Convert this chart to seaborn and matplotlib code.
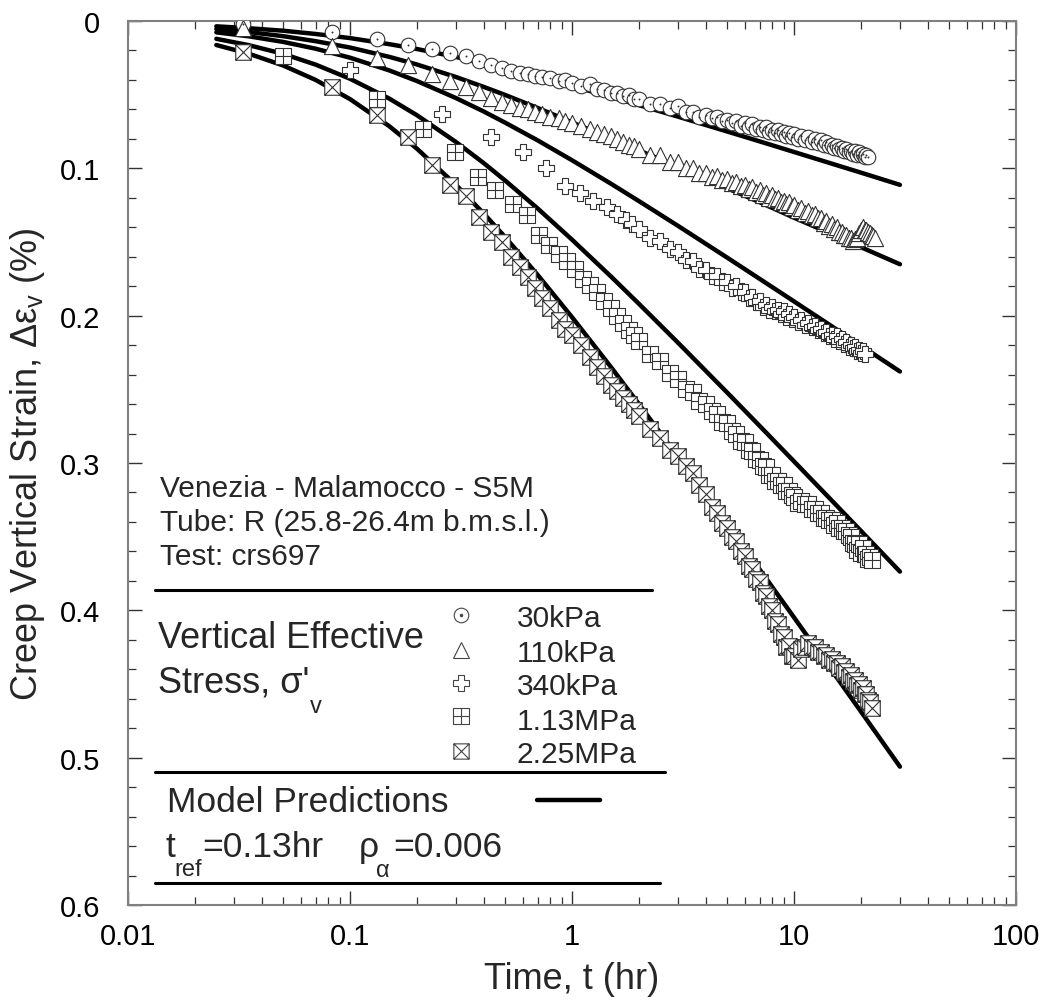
import numpy as np
import pandas as pd
import matplotlib
matplotlib.use("Agg")
import matplotlib.pyplot as plt
import seaborn as sns
from matplotlib.path import Path
from matplotlib.lines import Line2D

# ---------------- data ----------------
# Model predictions (time in hr, strain in %)
model_t = [0.025, 0.035, 0.05, 0.07, 0.1, 0.15, 0.2, 0.3, 0.4, 0.5, 0.7, 1, 1.5, 2, 3, 5, 7, 10, 15, 20, 30]
model_30kpa = [0.0036, 0.0049, 0.0066, 0.0088, 0.0116, 0.0157, 0.0190, 0.0244, 0.0287, 0.0322, 0.0378,
               0.0441, 0.0516, 0.0571, 0.0649, 0.0750, 0.0817, 0.0889, 0.0971, 0.1029, 0.1112]
model_110kpa = [0.0055, 0.0075, 0.0103, 0.0137, 0.0180, 0.0243, 0.0295, 0.0380, 0.0447, 0.0502, 0.0590,
                0.0688, 0.0798, 0.0878, 0.0990, 0.1135, 0.1230, 0.1335, 0.1450, 0.1535, 0.1651]
model_340kpa = [0.0077, 0.0104, 0.0142, 0.0188, 0.0249, 0.0335, 0.0407, 0.0523, 0.0614, 0.0690, 0.0810,
                0.0945, 0.1105, 0.1222, 0.1390, 0.1606, 0.1750, 0.1903, 0.2078, 0.2203, 0.2379]
model_113mpa = [0.0121, 0.0164, 0.0223, 0.0296, 0.0392, 0.0526, 0.0639, 0.0821, 0.0964, 0.1083, 0.1272,
                0.1484, 0.1735, 0.1919, 0.2183, 0.2522, 0.2748, 0.2989, 0.3264, 0.3460, 0.3737]
model_225mpa = [0.0163, 0.0222, 0.0302, 0.0400, 0.0530, 0.0713, 0.0866, 0.1112, 0.1306, 0.1467, 0.1723,
                0.2010, 0.2350, 0.2599, 0.2957, 0.3416, 0.3722, 0.4048, 0.4421, 0.4686, 0.5061]

# Measured creep strain: sampling times (hr)
t_early_std = [0.033, 0.083, 0.133, 0.183, 0.233, 0.283, 0.333, 0.383, 0.433, 0.483, 0.533, 0.583, 0.633,
               0.683, 0.733, 0.8, 0.87, 0.93, 1.0, 1.1, 1.2, 1.3, 1.4, 1.5, 1.6, 1.7, 1.8, 1.9]
t_early_340 = [0.1, 0.26, 0.43, 0.6, 0.76, 0.93, 1.09, 1.24, 1.44, 1.6, 1.75, 1.87]
t_early_113 = [0.05, 0.132, 0.213, 0.297, 0.376, 0.45, 0.54, 0.63, 0.71, 0.79, 0.87, 0.95, 1.03, 1.12,
               1.2, 1.3, 1.4, 1.5, 1.6, 1.7, 1.8, 1.9]
t_late = [2.0, 2.25, 2.5, 2.75, 3.0, 3.25, 3.5, 3.75, 4.0, 4.25, 4.5, 4.75, 5.0, 5.25, 5.5, 5.75, 6.0,
          6.25, 6.5, 6.75, 7.0, 7.25, 7.5, 7.75, 8.0, 8.25, 8.5, 8.75, 9.0, 9.25, 9.5, 9.75, 10.0,
          10.4, 10.8, 11.2, 11.6, 12.0, 12.4, 12.8, 13.2, 13.6, 14.0, 14.4, 14.8, 15.2, 15.6, 16.0,
          16.4, 16.8, 17.2, 17.6, 18.0, 18.4, 18.8, 19.2, 19.6, 20.0, 20.4, 20.8, 21.2, 21.6, 22.0,
          22.4, 22.8, 23.2]

v_30kpa = [0.002, 0.0075, 0.012, 0.016, 0.019, 0.022, 0.024, 0.027, 0.030, 0.032, 0.034, 0.035, 0.036,
           0.037, 0.038, 0.039, 0.041, 0.040, 0.042, 0.044, 0.043, 0.046, 0.047, 0.049, 0.049, 0.051, 0.050, 0.053,
           0.053, 0.056, 0.056, 0.059, 0.058, 0.062, 0.062, 0.065, 0.064, 0.066, 0.065, 0.068, 0.067, 0.069, 0.068,
           0.071, 0.069, 0.072, 0.070, 0.073, 0.072, 0.074, 0.072, 0.075, 0.074, 0.076, 0.074, 0.077, 0.075, 0.078,
           0.076, 0.079, 0.077, 0.080, 0.078, 0.081, 0.079, 0.082, 0.080, 0.083, 0.081, 0.084, 0.082, 0.085, 0.084,
           0.086, 0.085, 0.087, 0.086, 0.088, 0.087, 0.089, 0.088, 0.090, 0.088, 0.091, 0.089, 0.091, 0.090, 0.092,
           0.091, 0.092]
t_30kpa = t_early_std + t_late[:62]

v_110kpa = [0.005, 0.017, 0.025, 0.030, 0.036, 0.041, 0.045, 0.048, 0.052, 0.055, 0.057, 0.059, 0.060,
            0.062, 0.063, 0.065, 0.066, 0.068, 0.069, 0.071, 0.073, 0.075, 0.077, 0.078, 0.080, 0.082, 0.084, 0.085,
            0.087, 0.091, 0.091, 0.096, 0.096, 0.100, 0.100, 0.103, 0.103, 0.106, 0.105, 0.108, 0.107, 0.110, 0.109,
            0.112, 0.111, 0.114, 0.113, 0.116, 0.115, 0.118, 0.117, 0.120, 0.118, 0.121, 0.120, 0.123, 0.122, 0.124,
            0.123, 0.126, 0.125, 0.128, 0.127, 0.130, 0.129, 0.132, 0.131, 0.134, 0.134, 0.137, 0.136, 0.139, 0.138,
            0.141, 0.140, 0.143, 0.143, 0.145, 0.145, 0.147, 0.147, 0.149, 0.148, 0.147, 0.144, 0.142, 0.140, 0.142,
            0.142, 0.143, 0.144, 0.145, 0.146, 0.147]
t_110kpa = t_early_std + t_late[:66]

v_340kpa = [0.033, 0.063, 0.079, 0.089, 0.100, 0.112, 0.117, 0.122, 0.126, 0.131, 0.135, 0.138,
            0.141, 0.147, 0.149, 0.155, 0.157, 0.162, 0.163, 0.168, 0.169, 0.173, 0.173, 0.177, 0.177, 0.181, 0.180,
            0.184, 0.184, 0.188, 0.187, 0.191, 0.190, 0.194, 0.193, 0.196, 0.194, 0.197, 0.196, 0.199, 0.197, 0.201,
            0.199, 0.202, 0.201, 0.204, 0.203, 0.206, 0.205, 0.208, 0.207, 0.210, 0.209, 0.212, 0.211, 0.214, 0.213,
            0.216, 0.214, 0.217, 0.216, 0.219, 0.218, 0.221, 0.220, 0.222, 0.221, 0.224, 0.223, 0.225, 0.224, 0.226]
t_340kpa = t_early_340 + t_late[:60]

v_113mpa = [0.024, 0.053, 0.073, 0.089, 0.106, 0.115, 0.124, 0.132, 0.145, 0.152, 0.158, 0.163, 0.168, 0.175,
            0.179, 0.184, 0.190, 0.195, 0.200, 0.205, 0.210, 0.213,
            0.217, 0.226, 0.231, 0.239, 0.243, 0.250, 0.252, 0.258, 0.260, 0.265, 0.267, 0.272, 0.273, 0.278, 0.280,
            0.285, 0.286, 0.291, 0.292, 0.297, 0.298, 0.302, 0.303, 0.308, 0.308, 0.312, 0.312, 0.315, 0.315, 0.319,
            0.319, 0.322, 0.323, 0.327, 0.326, 0.328, 0.328, 0.331, 0.331, 0.334, 0.334, 0.337, 0.337, 0.339, 0.339,
            0.342, 0.341, 0.344, 0.344, 0.346, 0.346, 0.349, 0.350, 0.354, 0.355, 0.359, 0.355, 0.361, 0.358, 0.362,
            0.362, 0.365, 0.364, 0.366]
t_113mpa = t_early_113 + t_late[:64]

v_225mpa = [0.021, 0.045, 0.064, 0.079, 0.098, 0.111, 0.119, 0.133, 0.143, 0.150, 0.160, 0.167, 0.174,
            0.181, 0.188, 0.195, 0.203, 0.209, 0.213, 0.220, 0.228, 0.235, 0.241, 0.247, 0.251, 0.256, 0.260, 0.264,
            0.268, 0.277, 0.283, 0.291, 0.295, 0.302, 0.307, 0.315, 0.321, 0.330, 0.334, 0.341, 0.344, 0.350, 0.353,
            0.360, 0.363, 0.370, 0.372, 0.379, 0.381, 0.388, 0.390, 0.397, 0.400, 0.407, 0.409, 0.416, 0.418, 0.425,
            0.424, 0.431, 0.431, 0.434, 0.426, 0.425, 0.422, 0.425, 0.425, 0.428, 0.428, 0.431, 0.430, 0.434, 0.433,
            0.436, 0.436, 0.439, 0.438, 0.442, 0.441, 0.445, 0.444, 0.448, 0.447, 0.451, 0.450, 0.454, 0.453, 0.457,
            0.457, 0.461, 0.462, 0.466]
t_225mpa = t_early_std + t_late[:64]

stress_labels = ["30kPa", "110kPa", "340kPa", "1.13MPa", "2.25MPa"]
x_ticks = [0.01, 0.1, 1, 10, 100]
x_ticklabels = ["0.01", "0.1", "1", "10", "100"]
y_ticks = [0, 0.1, 0.2, 0.3, 0.4, 0.5, 0.6]
y_ticklabels = ["0", "0.1", "0.2", "0.3", "0.4", "0.5", "0.6"]

# ---------------- style ----------------
sns.set_theme(style="ticks")
plt.rcParams['font.family'] = ['Liberation Sans', 'DejaVu Sans']
plt.rcParams['mathtext.fontset'] = 'custom'
plt.rcParams['mathtext.rm'] = 'Liberation Sans'
plt.rcParams['mathtext.it'] = 'Liberation Sans:italic'
plt.rcParams['mathtext.default'] = 'regular'

W, H = 1044, 1003
fig = plt.figure(figsize=(W / 100, H / 100), dpi=100)
fig.patch.set_facecolor('white')
L, R, T, B = 128, 1016, 22, 906
ax = fig.add_axes([L / W, 1 - B / H, (R - L) / W, (B - T) / H])
ax.set_facecolor('white')


def fx(x):
    return x / W


def fy(y):
    return 1 - y / H


# custom markers: square with plus, square with cross
sq_plus = Path([(-1, -1), (1, -1), (1, 1), (-1, 1), (-1, -1), (0, -1), (0, 1), (-1, 0), (1, 0)],
               [Path.MOVETO, Path.LINETO, Path.LINETO, Path.LINETO, Path.CLOSEPOLY,
                Path.MOVETO, Path.LINETO, Path.MOVETO, Path.LINETO])
sq_x = Path([(-1, -1), (1, -1), (1, 1), (-1, 1), (-1, -1), (-1, -1), (1, 1), (-1, 1), (1, -1)],
            [Path.MOVETO, Path.LINETO, Path.LINETO, Path.LINETO, Path.CLOSEPOLY,
             Path.MOVETO, Path.LINETO, Path.MOVETO, Path.LINETO])

edge = '#333333'

# model lines
for mv in [model_30kpa, model_110kpa, model_340kpa, model_113mpa, model_225mpa]:
    sns.lineplot(x=model_t, y=mv, color='black', lw=3.2, ax=ax, estimator=None,
                 sort=False, legend=False, zorder=2)

series = [
    (t_30kpa, v_30kpa, 'o', 110),
    (t_110kpa, v_110kpa, '^', 135),
    (t_340kpa, v_340kpa, 'P', 120),
    (t_113mpa, v_113mpa, sq_plus, 125),
    (t_225mpa, v_225mpa, sq_x, 125),
]
for t, v, mk, s in series:
    sns.scatterplot(x=t, y=v, marker=mk, s=s, color='white', edgecolor=edge,
                    linewidth=0.8, ax=ax, zorder=3, legend=False)
# centre dots of the circles
sns.scatterplot(x=t_30kpa, y=v_30kpa, marker='o', s=2, color='#333333', linewidth=0,
                ax=ax, zorder=4, legend=False)

# axes
ax.set_xscale('log')
ax.set_xlim(0.01, 100)
ax.set_ylim(0.6, 0)
ax.set_xticks(x_ticks)
ax.set_xticklabels(x_ticklabels)
ax.xaxis.set_minor_locator(matplotlib.ticker.LogLocator(base=10, subs=np.arange(2, 10) * 1.0, numticks=20))
ax.xaxis.set_minor_formatter(matplotlib.ticker.NullFormatter())
ax.set_yticks(y_ticks)
ax.set_yticklabels(y_ticklabels)
ax.yaxis.set_minor_locator(matplotlib.ticker.MultipleLocator(0.02))
ax.tick_params(which='both', direction='in', top=True, right=True, color='#333333')
ax.tick_params(which='major', length=10, width=1.0, labelsize=21, labelcolor='black')
ax.tick_params(which='minor', length=5.5, width=0.9)
ax.tick_params(axis='x', which='major', pad=12)
ax.tick_params(axis='y', which='major', pad=20)
for sp in ax.spines.values():
    sp.set_color('#808080')
    sp.set_linewidth(1.5)

ax.set_xlabel("Time, t (hr)", fontsize=26)
ax.xaxis.set_label_coords(0.5, (B - 962) / (B - T))
ax.set_ylabel("Creep Vertical Strain, Δε$_{\\mathregular{v}}$ (%)", fontsize=26)
ax.yaxis.set_label_coords((47 - L) / (R - L), 0.5)

# annotation block
fig.text(fx(160), fy(497), "Venezia - Malamocco - S5M", fontsize=21.5, va='baseline')
fig.text(fx(160), fy(531), "Tube: R (25.8-26.4m b.m.s.l.)", fontsize=21.5, va='baseline')
fig.text(fx(160), fy(565), "Test: crs697", fontsize=21.5, va='baseline')

for (x0, x1, y) in [(155, 652, 591), (155, 665, 773), (155, 660, 884)]:
    fig.add_artist(Line2D([fx(x0), fx(x1)], [fy(y), fy(y)], color='black', lw=2.2,
                          transform=fig.transFigure))

fig.text(fx(158), fy(648), "Vertical Effective", fontsize=26, va='baseline')
fig.text(fx(158), fy(693), "Stress, σ'", fontsize=26, va='baseline')
fig.text(fx(310), fy(713), "v", fontsize=17, va='baseline')

legend_y = [616, 651, 684, 717, 752]
legend_base = [627, 662, 695, 730, 763]
legend_mk = ['o', '^', 'P', sq_plus, sq_x]
legend_ms = [10.5, 11.5, 11, 11, 11]
for yc, yb, mk, ms, lab in zip(legend_y, legend_base, legend_mk, legend_ms, stress_labels):
    fig.add_artist(Line2D([fx(461)], [fy(yc)], marker=mk, ms=ms, mfc='white', mec='#444444',
                          mew=0.8, ls='none', transform=fig.transFigure))
    fig.text(fx(517), fy(yb), lab, fontsize=21.5, va='baseline')
fig.add_artist(Line2D([fx(461)], [fy(616)], marker='o', ms=1.5, mfc='#444444', mec='#444444',
                      ls='none', transform=fig.transFigure))

fig.text(fx(167), fy(812), "Model Predictions", fontsize=25.5, va='baseline')
fig.add_artist(Line2D([fx(537), fx(600)], [fy(801), fy(801)], color='black', lw=3.2,
                      transform=fig.transFigure))

fig.text(fx(165), fy(857), "t", fontsize=25.5, va='baseline')
fig.text(fx(174), fy(876), "ref", fontsize=17, va='baseline')
fig.text(fx(202), fy(857), "=0.13hr", fontsize=25.5, va='baseline')
fig.text(fx(359), fy(857), "ρ", fontsize=25.5, va='baseline')
fig.text(fx(376), fy(877), "α", fontsize=17, va='baseline')
fig.text(fx(393), fy(857), "=0.006", fontsize=25.5, va='baseline')

fig.savefig("out.png", dpi=100, facecolor='white')
